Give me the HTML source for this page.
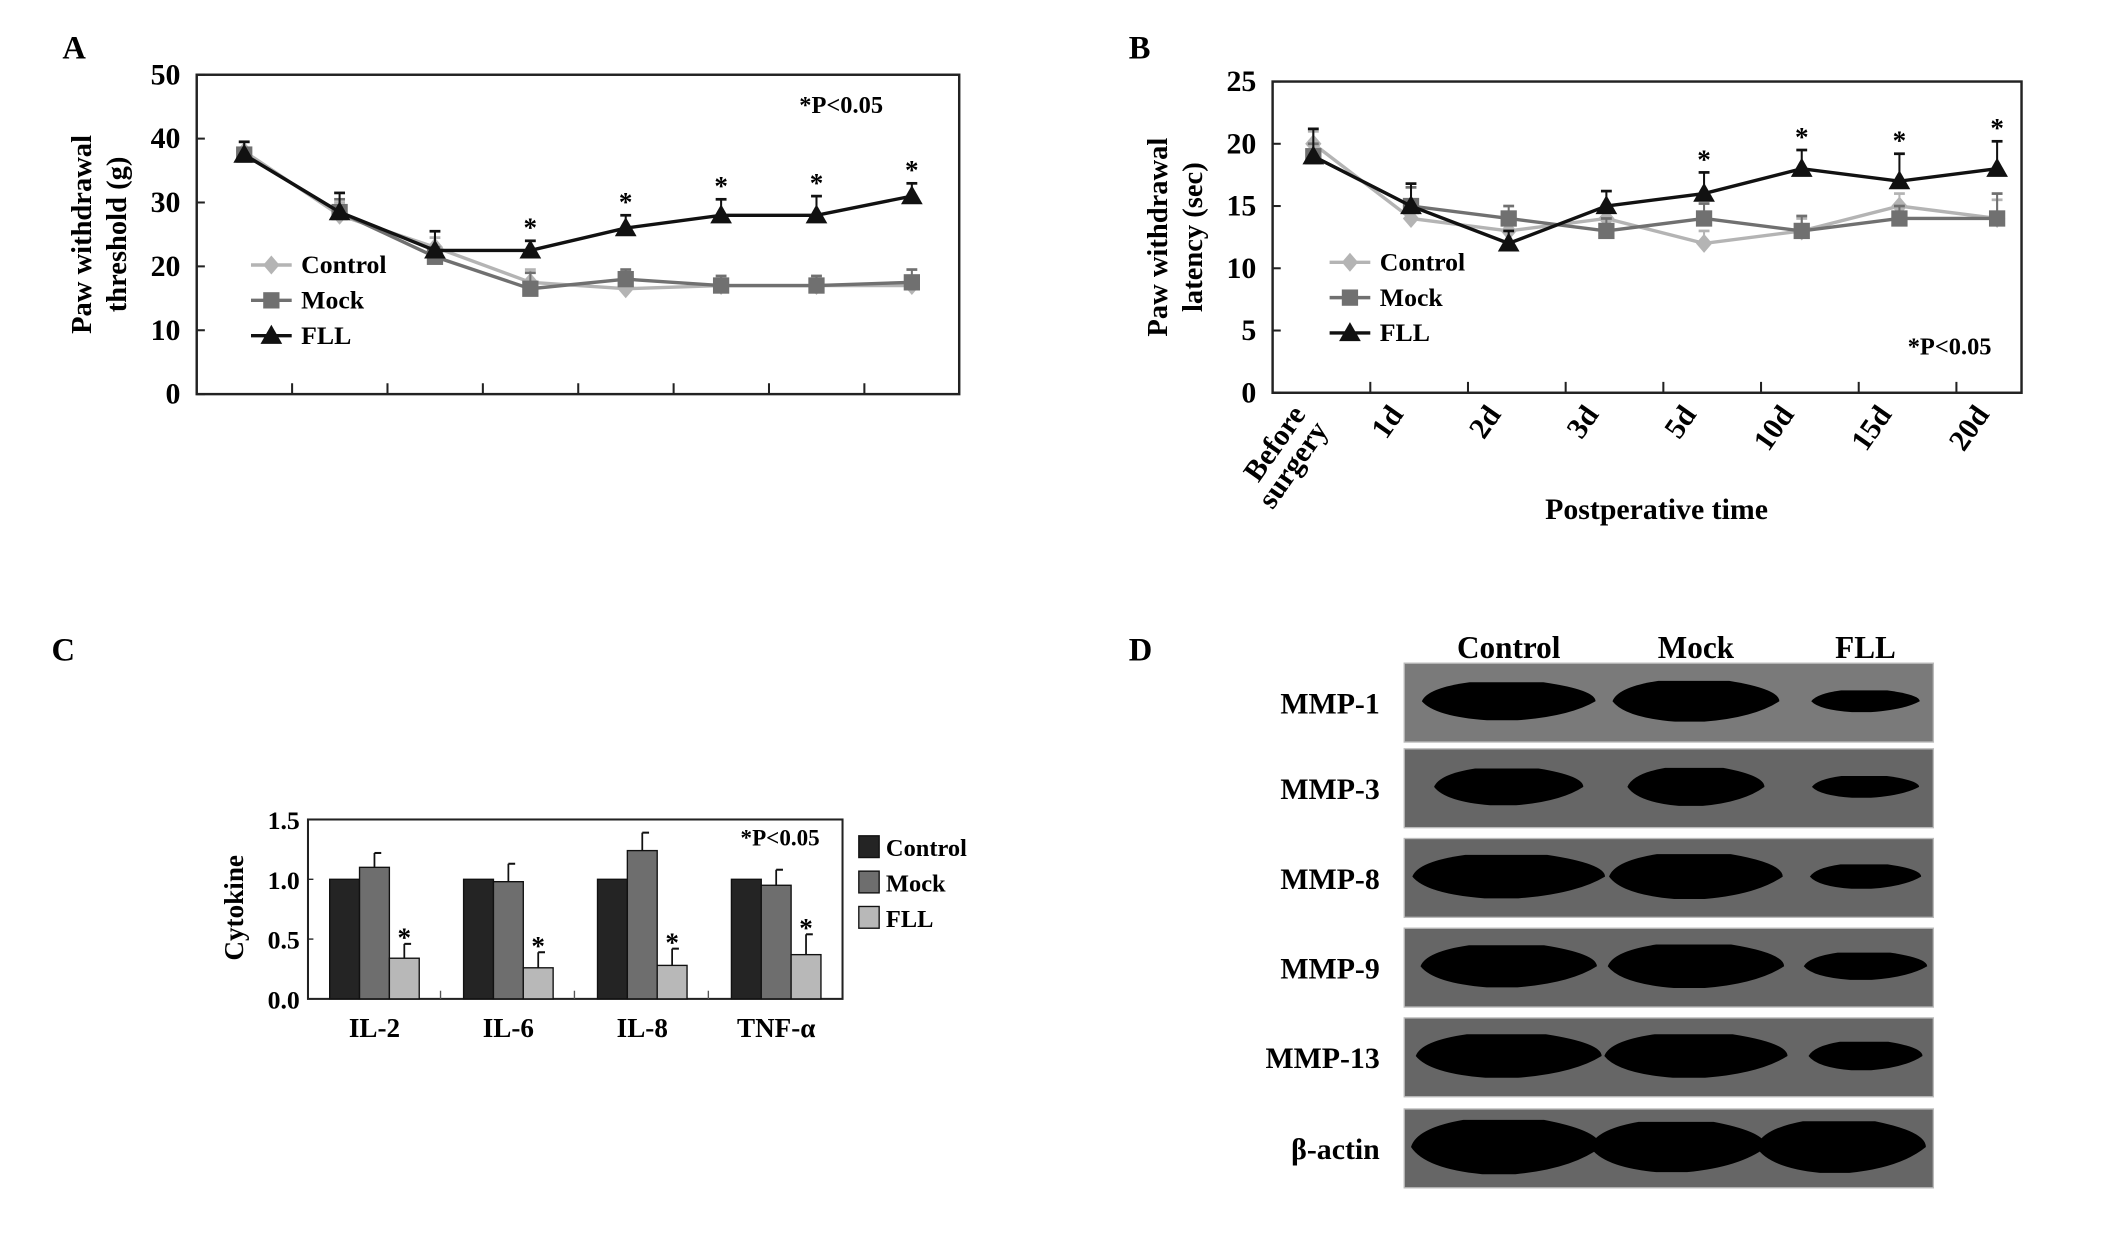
<!DOCTYPE html>
<html><head><meta charset="utf-8"><style>
html,body{margin:0;padding:0;background:#fff;}
svg{display:block;font-family:"Liberation Serif",serif;font-weight:bold;}
</style></head><body>
<svg id="fig" width="2126" height="1234" viewBox="0 0 1567 908" preserveAspectRatio="none" xmlns="http://www.w3.org/2000/svg"></svg>
<script>
// ---- Panel A data ----
const aCats = ["t0","t1","t2","t3","t4","t5","t6","t7"];
const aControl = [38,28,23,17.5,16.5,17,17,17];
const aMock = [37.5,28.5,21.5,16.5,18,17,17,17.5];
const aFLL = [37.5,28.5,22.5,22.5,26,28,28,31];
const aErrC = [1.5,2,1.5,2,1,1,1,1];
const aErrM = [1,2,1.5,2.5,1.5,1.5,1.5,2];
const aErrF = [2,3,3,1.5,2,2.5,3,2];
const aStar = [false,false,false,true,true,true,true,true];
const aTicks = [0,10,20,30,40,50];
// ---- Panel B data ----
const bCats = ["Before surgery","1d","2d","3d","5d","10d","15d","20d"];
const bControl = [20,14,13,14,12,13,15,14];
const bMock = [19,15,14,13,14,13,14,14];
const bFLL = [19,15,12,15,16,18,17,18];
const bErrC = [1,1,1,1,1,1,1,1.5];
const bErrM = [1,1.5,1,1,1.2,1.2,1,2];
const bErrF = [2.2,1.8,1,1.2,1.7,1.5,2.2,2.2];
const bStar = [false,false,false,false,true,true,true,true];
const bTicks = [0,5,10,15,20,25];
// ---- Panel C data ----
const cCats = ["IL-2","IL-6","IL-8","TNF-α"];
const cControl = [1,1,1,1];
const cMock = [1.1,0.98,1.24,0.95];
const cFLL = [0.34,0.26,0.28,0.37];
const cErrM = [0.12,0.15,0.15,0.13];
const cErrF = [0.12,0.13,0.14,0.17];
const cTicks = ["0.0","0.5","1.0","1.5"];
// ---- Panel D data ----
const dRows = ["MMP-1","MMP-3","MMP-8","MMP-9","MMP-13","β-actin"];
const dLanes = ["Control","Mock","FLL"];
const dBandW = [[128,123,80],[110,101,79],[142,128,82],[130,130,91],[137,135,84],[140,130,125]];
const dBandH = [[28,30,16],[27,28,16],[32,33,18],[31,32,20],[32,32,21],[40,37,38]];

const NS="http://www.w3.org/2000/svg";
const svg=document.getElementById('fig');
function el(tag,attrs,parent,text){const e=document.createElementNS(NS,tag);for(const k in attrs)e.setAttribute(k,attrs[k]);if(text!==undefined)e.textContent=text;(parent||svg).appendChild(e);return e;}

function linePanel(o){
  const g=el('g',{});
  
  
  const ymax=o.ticks[o.ticks.length-1];
  const X=i=>o.x0+o.pad+i*o.step;
  const Y=v=>o.y1-(v/ymax)*(o.y1-o.y0);
  el('rect',{x:o.x0,y:o.y0,width:o.x1-o.x0,height:o.y1-o.y0,fill:'none',stroke:'#222','stroke-width':1.8},g);
  o.ticks.forEach(t=>{
    el('line',{x1:o.x0,x2:o.x0+6,y1:Y(t),y2:Y(t),stroke:'#222','stroke-width':1.5},g);
    const tl=el('text',{x:o.x0-12,y:Y(t)+7,'text-anchor':'end','font-size':22},g,t);
    
    
  });
  for(let i=1;i<o.cats.length;i++){
    const xx=o.x0+i*o.step;
    el('line',{x1:xx,x2:xx,y1:o.y1,y2:o.y1-8,stroke:'#222','stroke-width':1.5},g);
  }
  const series=[[o.c,o.ec,'#b4b4b4','diamond','control'],[o.m,o.em,'#707070','square','mock'],[o.f,o.ef,'#111','triangle','fll']];
  series.forEach(s=>{
    const sg=el('g',{},g);
    
    
    el('polyline',{points:s[0].map((v,i)=>X(i)+','+Y(v)).join(' '),fill:'none',stroke:s[2],'stroke-width':2.5},sg);
    s[0].forEach((v,i)=>{
      const x=X(i),y=Y(v),ye=Y(v+s[1][i]);
      el('line',{x1:x,x2:x,y1:y,y2:ye,stroke:s[2],'stroke-width':1.5},sg);
      el('line',{x1:x-4,x2:x+4,y1:ye,y2:ye,stroke:s[2],'stroke-width':2},sg);
      marker(sg,s[3],x,y,s[2]);
    });
  });
  o.star.forEach((s,i)=>{ if(s){const st=el('text',{x:X(i),y:Y(o.f[i]+o.ef[i])-3,'text-anchor':'middle','font-size':20},g,'*');
    
    }});
  const names=['Control','Mock','FLL'];
  series.forEach((s,i)=>{
    const ly=o.ly+i*26;
    const lg=el('g',{},g);
    
    
    el('line',{x1:o.lx,x2:o.lx+30,y1:ly,y2:ly,stroke:s[2],'stroke-width':2.5},lg);
    marker(lg,s[3],o.lx+15,ly,s[2]);
    el('text',{x:o.lx+37,y:ly+6,'font-size':19},lg,names[i]);
  });
  const p=el('text',{x:o.px,y:o.py,'text-anchor':'middle','font-size':18},g,'*P<0.05');
  
  
  const yt=el('text',{transform:`translate(${o.x0-78},${(o.y0+o.y1)/2}) rotate(-90)`,'text-anchor':'middle','font-size':21},g);
  
  
  el('tspan',{x:0,dy:0},yt,o.yt1);
  el('tspan',{x:0,dy:26},yt,o.yt2);
  return {g,X,Y};
}
function marker(g,type,x,y,c){
  if(type==='diamond') el('polygon',{points:`${x},${y-7} ${x+6},${y} ${x},${y+7} ${x-6},${y}`,fill:c},g);
  else if(type==='square') el('rect',{x:x-6,y:y-6,width:12,height:12,fill:c},g);
  else el('polygon',{points:`${x},${y-8} ${x+8},${y+6} ${x-8},${y+6}`,fill:c},g);
}

el('text',{x:46,y:43,'font-size':24},svg,'A');
const A=linePanel({name:'panel-a-threshold-chart',cats:aCats,c:aControl,m:aMock,f:aFLL,ec:aErrC,em:aErrM,ef:aErrF,star:aStar,ticks:aTicks,
  x0:145,x1:707,y0:55,y1:290,pad:35,step:70.3,lx:185,ly:195,px:620,py:83,yt1:'Paw withdrawal',yt2:'threshold (g)'});

el('text',{x:832,y:43,'font-size':24},svg,'B');
const B=linePanel({name:'panel-b-latency-chart',cats:bCats,c:bControl,m:bMock,f:bFLL,ec:bErrC,em:bErrM,ef:bErrF,star:bStar,ticks:bTicks,
  x0:938,x1:1490,y0:60,y1:289,pad:30,step:72,lx:980,ly:193,px:1437,py:261,yt1:'Paw withdrawal',yt2:'latency (sec)'});
bCats.forEach((c,i)=>{
  const x=B.X(i)-5;
  const t=el('text',{transform:`translate(${x},${305}) rotate(-55)`,'text-anchor':'end','font-size':22},svg);
  
  
  if(c==='Before surgery'){el('tspan',{x:0,dy:0},t,'Before');el('tspan',{x:0,dy:20},t,'surgery');}
  else t.textContent=c;
});
const bx=el('text',{x:1221,y:382,'text-anchor':'middle','font-size':22},svg,'Postperative time');



// Panel C
el('text',{x:38,y:486,'font-size':24},svg,'C');
(function(){
  const g=el('g',{});
  
  
  const x0=227,x1=621,y0=603,y1=735,ymax=1.5;
  const Y=v=>y1-(v/ymax)*(y1-y0);
  const gx=i=>243+i*98.7;
  const bw=22;
  el('rect',{x:x0,y:y0,width:x1-x0,height:y1-y0,fill:'none',stroke:'#222','stroke-width':1.5},g);
  cTicks.forEach(t=>{
    el('line',{x1:x0,x2:x0+4,y1:Y(+t),y2:Y(+t),stroke:'#222','stroke-width':1},g);
    el('text',{x:x0-6,y:Y(+t)+7,'text-anchor':'end','font-size':19},g,t);
  });
  for(let i=1;i<4;i++){const xx=gx(i)-17;el('line',{x1:xx,x2:xx,y1:y1,y2:y1-6,stroke:'#555','stroke-width':1},g);}
  const sets=[[cControl,null,'#242424','control'],[cMock,cErrM,'#6e6e6e','mock'],[cFLL,cErrF,'#b8b8b8','fll']];
  cCats.forEach((c,i)=>{
    sets.forEach((s,j)=>{
      const v=s[0][i],x=gx(i)+j*bw;
      const r=el('rect',{x:x,y:Y(v),width:bw,height:y1-Y(v),fill:s[2],stroke:'#111','stroke-width':1},g);
      
      
      if(s[1]){const ye=Y(v+s[1][i]);el('line',{x1:x+bw/2,x2:x+bw/2,y1:Y(v),y2:ye,stroke:'#111','stroke-width':1.3},g);
        el('line',{x1:x+bw/2,x2:x+bw/2+5,y1:ye,y2:ye,stroke:'#111','stroke-width':1.5},g);}
      if(j===2) el('text',{x:x+bw/2,y:Y(v+s[1][i])+2,'text-anchor':'middle','font-size':20},g,'*');
    });
    const lab=el('text',{x:gx(i)+33,y:763,'text-anchor':'middle','font-size':20},g,c);
    
    
  });
  el('text',{x:575,y:622,'text-anchor':'middle','font-size':17},g,'*P<0.05');
  const yt=el('text',{transform:'translate(179,668) rotate(-90)','text-anchor':'middle','font-size':20},g,'Cytokine');
  
  ['Control','Mock','FLL'].forEach((n,i)=>{
    const lg=el('g',{},g);
    
    
    el('rect',{x:633,y:615+i*26,width:15,height:16,fill:sets[i][2],stroke:'#111','stroke-width':1},lg);
    el('text',{x:653,y:630+i*26,'font-size':18},lg,n);
  });
})();

// Panel D
el('text',{x:832,y:486,'font-size':24},svg,'D');
(function(){
  const g=el('g',{});
  
  
  const rowY=[488,551,617,683,749,816], rowH=58;
  const laneX=[1112,1250,1375];
  dLanes.forEach((l,i)=>{
    const t=el('text',{x:laneX[i],y:484,'text-anchor':'middle','font-size':23},g,l);
    
    
  });
  dRows.forEach((r,ri)=>{
    const y=rowY[ri];
    const rg=el('g',{},g);
    
    
    el('rect',{x:1035,y:y,width:390,height:rowH,fill:ri===0?'#7a7a7a':'#666',stroke:'#bbb','stroke-width':1},rg);
    el('text',{x:1017,y:y+rowH/2+8,'text-anchor':'end','font-size':22},rg,r);
    const cxs=ri===5?[1110,1237,1357]:[1112,1250,1375];
    cxs.forEach((cx,li)=>{
      const w=dBandW[ri][li],h=dBandH[ri][li],cy=y+rowH/2-1;
      const hw=w/2;
      el('path',{d:`M${cx-hw},${cy} Q${cx-hw+4},${cy-h*0.35} ${cx-hw*0.45},${cy-h/2} L${cx+hw*0.4},${cy-h/2} Q${cx+hw},${cy-h*0.3} ${cx+hw},${cy} Q${cx+hw*0.7},${cy+h*0.4} ${cx+hw*0.1},${cy+h/2} L${cx-hw*0.25},${cy+h/2} Q${cx-hw*0.85},${cy+h*0.4} ${cx-hw},${cy} Z`,fill:'#000'},rg);
    });
  });
})();
</script>
</body></html>
